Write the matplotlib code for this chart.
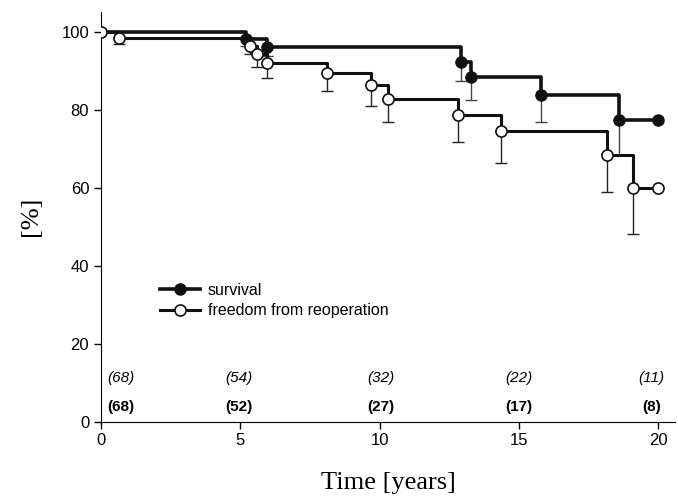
import numpy as np
import matplotlib
matplotlib.use("Agg")
import matplotlib.pyplot as plt

# Kaplan-Meier estimates
surv_t = [0, 5.2, 5.94, 12.93, 13.28, 15.8, 18.6, 20]
surv_y = [100, 98.4, 96.2, 92.3, 88.5, 84.0, 77.5, 77.5]
surv_lo = [100, 96.5, 94.0, 87.6, 82.6, 77.0, 68.6, 77.5]

reop_t = [0, 0.66, 5.34, 5.58, 5.94, 8.1, 9.7, 10.3, 12.8, 14.36, 18.16, 19.08, 20]
reop_y = [100, 98.5, 96.4, 94.4, 92.1, 89.6, 86.6, 83.0, 78.9, 74.6, 68.5, 60.1, 60.1]
reop_lo = [100, 97.0, 94.5, 91.0, 88.3, 85.0, 81.0, 77.0, 71.9, 66.5, 59.0, 48.3, 60.1]

# patients at risk
risk_t = [0.7, 4.95, 10.05, 15.0, 19.75]
risk_surv = ["(68)", "(54)", "(32)", "(22)", "(11)"]
risk_reop = ["(68)", "(52)", "(27)", "(17)", "(8)"]

plt.rcParams['font.family'] = ['Liberation Sans', 'DejaVu Sans']

fig = plt.figure(figsize=(6.78, 4.99), dpi=100)
ax = fig.add_axes([0.149, 0.155, 0.8466, 0.8215])

s_y = np.array(surv_y)
r_y = np.array(reop_y)

# error bars (lower side only)
ax.errorbar(surv_t[1:-1], s_y[1:-1], yerr=[s_y[1:-1] - np.array(surv_lo[1:-1]), np.zeros(len(s_y) - 2)],
            fmt='none', ecolor='#444444', elinewidth=1, capsize=4, capthick=1, zorder=2)
ax.errorbar(reop_t[1:-1], r_y[1:-1], yerr=[r_y[1:-1] - np.array(reop_lo[1:-1]), np.zeros(len(r_y) - 2)],
            fmt='none', ecolor='#222222', elinewidth=1, capsize=4, capthick=1, zorder=2)

ax.step(surv_t, surv_y, where='post', color='#111111', lw=2.6, zorder=3)
ax.step(reop_t, reop_y, where='post', color='#111111', lw=2.2, zorder=3)
ax.plot(surv_t[1:], surv_y[1:], 'o', color='#111111', ms=8, zorder=4)
ax.plot(reop_t, reop_y, 'o', mfc='white', mec='#111111', mew=1.2, ms=8, zorder=5)

# legend handles
ax.plot([], [], '-o', color='#111111', lw=2.6, ms=8, label='survival')
ax.plot([], [], '-o', color='#111111', lw=2.2, ms=8, mfc='white', mew=1.2,
        label='freedom from reoperation')
ax.legend(loc='upper left', bbox_to_anchor=(0.089, 0.358), frameon=False, fontsize=11.5,
          handlelength=2.5, handletextpad=0.5, labelspacing=0.35, borderpad=0)

for t, a, b in zip(risk_t, risk_surv, risk_reop):
    ax.text(t, 11.3, a, ha='center', va='center', style='italic', fontsize=11)
    ax.text(t, 3.8, b, ha='center', va='center', fontweight='bold', fontsize=11)

ax.set_xlim(0, 20.6)
ax.set_ylim(0, 105.3)
ax.set_xticks([0, 5, 10, 15, 20])
ax.set_yticks([0, 20, 40, 60, 80, 100])
ax.tick_params(labelsize=12, length=5, width=1, direction='out')
ax.spines['top'].set_visible(False)
ax.spines['right'].set_visible(False)
ax.set_xlabel('Time [years]', family='Liberation Serif', fontsize=19, labelpad=17)
ax.set_ylabel('[%]', family='Liberation Serif', fontsize=19, labelpad=14)

fig.savefig('out.png', dpi=100)
